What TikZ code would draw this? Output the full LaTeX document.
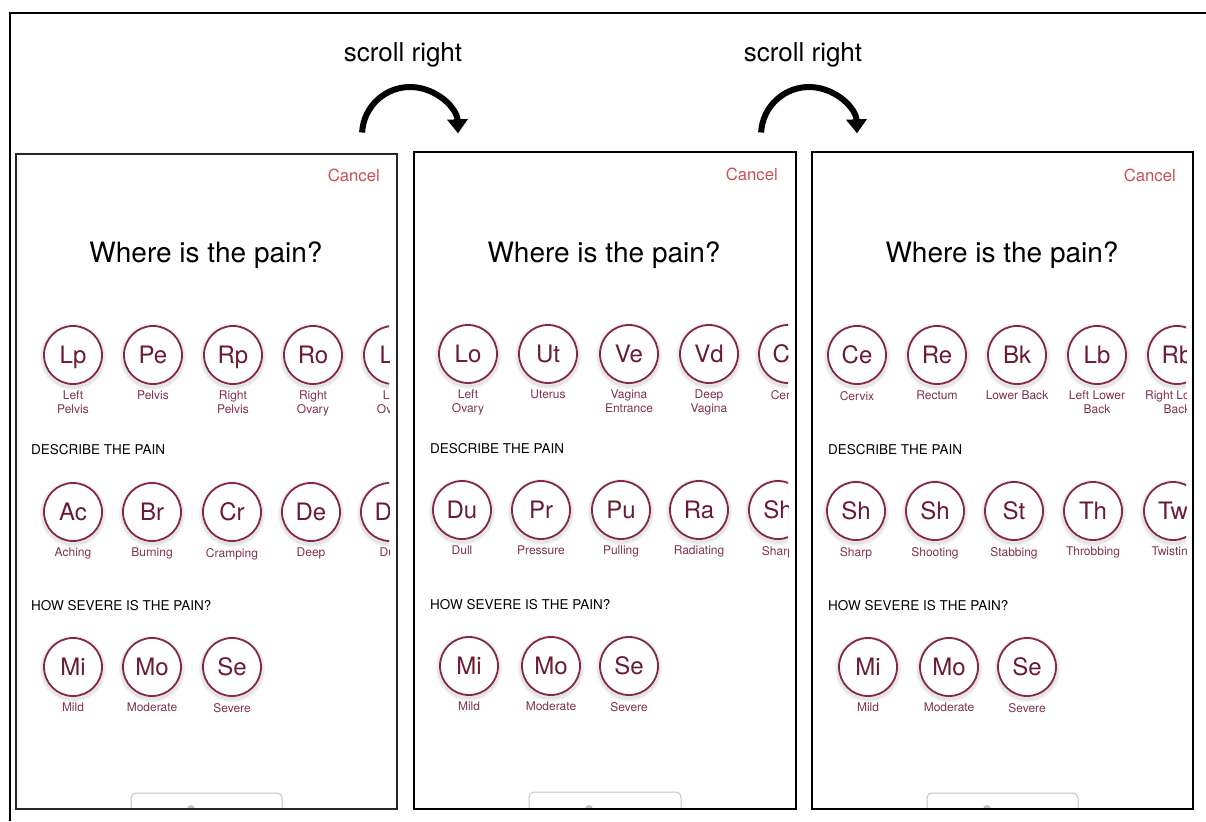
\documentclass[tikz,border=0pt]{standalone}
\usepackage{fontspec}
\setmainfont{TeX Gyre Heros}
\usetikzlibrary{arrows.meta}
\definecolor{ring}{HTML}{84293F}
\definecolor{abbr}{HTML}{6B1B30}
\definecolor{labc}{HTML}{7F3347}
\definecolor{cancelc}{HTML}{CC4E57}
\definecolor{btn}{HTML}{C4C4C4}
\tikzset{
  bub/.style={circle, draw=ring, line width=1.8pt, minimum size=58pt, inner sep=0pt, fill=white, text=abbr, font=\fontsize{24}{24}\selectfont, text height=17.3pt, text depth=0pt},
  lab/.style={anchor=north, inner sep=0pt, align=center, text=labc, font=\fontsize{12}{14}\selectfont},
  glow/.style={fill=black, opacity=0.05},
  head/.style={anchor=base west, inner sep=0pt, font=\fontsize{13.5}{14}\selectfont},
  title/.style={anchor=base, inner sep=0pt, font=\fontsize{28}{30}\selectfont},
  cancel/.style={anchor=base east, inner sep=0pt, text=cancelc, font=\fontsize{16.7}{18}\selectfont},
  scrolltext/.style={anchor=base, inner sep=0pt, font=\fontsize{26}{28}\selectfont},
  scrollarr/.style={line width=6pt, -{Triangle[length=14pt,width=20pt]}},
  panelb/.style={draw=black, line width=1.8pt},
  btnbox/.style={draw=btn, line width=1pt, rounded corners=5pt},
}
\newcommand\pbub[5]{%
  \fill[glow] (#2,#3+2) circle[radius=33];
  \fill[glow] (#2,#3+2) circle[radius=31.5];
  \node[bub] (#1) at (#2,#3) {#4};
  \node[lab] (#1l) at (#2,#3+36) {#5};
}
\begin{document}
\begin{tikzpicture}[x=1pt,y=-1pt]
\useasboundingbox (0,0) rectangle (1206,821);
\fill[white] (0,0) rectangle (1206,821);
% outer frame
\draw[line width=2.5pt] (1206,13) -- (10,13) -- (10,821);
% scroll labels and arrows
\node[scrolltext] (s1) at (403,62) {scroll right};
\node[scrolltext] (s2) at (803,62) {scroll right};
\coordinate (a1s) at (362.1,132.5);
\coordinate (a2s) at (761.1,132.5);
\draw[scrollarr] (a1s) arc[start angle=183, end angle=358, radius=48];
\draw[scrollarr] (a2s) arc[start angle=183, end angle=358, radius=48];

% ---------- panel 1 ----------
\begin{scope}
\clip (16,154) rectangle (389,809);
\node[cancel] (c1) at (380,182) {Cancel};
\node[title] (t1) at (206,262) {Where is the pain?};
\pbub{p1a}{73}{355}{Lp}{Left\\Pelvis}
\pbub{p1b}{153}{355}{Pe}{Pelvis}
\pbub{p1c}{233}{355}{Rp}{Right\\Pelvis}
\pbub{p1d}{313}{355}{Ro}{Right\\Ovary}
\pbub{p1e}{393}{355}{Lo}{Left\\Ovary}
\node[head] (h1a) at (31,454) {DESCRIBE THE PAIN};
\pbub{p1f}{73}{512}{Ac}{Aching}
\pbub{p1g}{152}{512}{Br}{Burning}
\pbub{p1h}{232}{512}{Cr}{Cramping}
\pbub{p1i}{311}{512}{De}{Deep}
\pbub{p1j}{390}{512}{Du}{Dull}
\node[head] (h1b) at (31,610) {HOW SEVERE IS THE PAIN?};
\pbub{p1k}{73}{667}{Mi}{Mild}
\pbub{p1l}{152}{667}{Mo}{Moderate}
\pbub{p1m}{232}{667}{Se}{Severe}
\draw[btnbox] (131,815) -- (131,793) -- (282,793) -- (282,815);
\fill[btn] (191,809) circle[radius=4];
\end{scope}
\draw[panelb, draw=black!85] (16,154) rectangle (397,809);

% ---------- panel 2 ----------
\begin{scope}
\clip (414,152) rectangle (788,809);
\node[cancel] (c2) at (778,181) {Cancel};
\node[title] (t2) at (604,262) {Where is the pain?};
\pbub{p2a}{468}{354}{Lo}{Left\\Ovary}
\pbub{p2b}{548}{354}{Ut}{Uterus}
\pbub{p2c}{629}{354}{Ve}{Vagina\\Entrance}
\pbub{p2d}{709}{354}{Vd}{Deep\\Vagina}
\pbub{p2e}{788}{354}{Ce}{Cervix}
\node[head] (h2a) at (430,453) {DESCRIBE THE PAIN};
\pbub{p2f}{462}{510}{Du}{Dull}
\pbub{p2g}{541}{510}{Pr}{Pressure}
\pbub{p2h}{621}{510}{Pu}{Pulling}
\pbub{p2i}{699}{510}{Ra}{Radiating}
\pbub{p2j}{778}{510}{Sh}{Sharp}
\node[head] (h2b) at (430,609) {HOW SEVERE IS THE PAIN?};
\pbub{p2k}{469}{666}{Mi}{Mild}
\pbub{p2l}{551}{666}{Mo}{Moderate}
\pbub{p2m}{629}{666}{Se}{Severe}
\draw[btnbox] (529,815) -- (529,792) -- (681,792) -- (681,815);
\fill[btn] (589,809) circle[radius=4];
\end{scope}
\draw[panelb] (414,152) rectangle (796,809);

% ---------- panel 3 ----------
\begin{scope}
\clip (812,152) rectangle (1186,809);
\node[cancel] (c3) at (1176,182) {Cancel};
\node[title] (t3) at (1002,262) {Where is the pain?};
\pbub{p3a}{857}{355}{Ce}{Cervix}
\pbub{p3b}{937}{355}{Re}{Rectum}
\pbub{p3c}{1017}{355}{Bk}{Lower Back}
\pbub{p3d}{1097}{355}{Lb}{Left Lower\\Back}
\pbub{p3e}{1177}{355}{Rb}{Right Lower\\Back}
\node[head] (h3a) at (828,454) {DESCRIBE THE PAIN};
\pbub{p3f}{856}{511}{Sh}{Sharp}
\pbub{p3g}{935}{511}{Sh}{Shooting}
\pbub{p3h}{1014}{511}{St}{Stabbing}
\pbub{p3i}{1093}{511}{Th}{Throbbing}
\pbub{p3j}{1173}{511}{Tw}{Twisting}
\node[head] (h3b) at (828,610) {HOW SEVERE IS THE PAIN?};
\pbub{p3k}{868}{667}{Mi}{Mild}
\pbub{p3l}{949}{667}{Mo}{Moderate}
\pbub{p3m}{1027}{667}{Se}{Severe}
\draw[btnbox] (927,815) -- (927,793) -- (1078,793) -- (1078,815);
\fill[btn] (987,809) circle[radius=4];
\end{scope}
\draw[panelb] (812,152) rectangle (1193,809);
\end{tikzpicture}
\end{document}
